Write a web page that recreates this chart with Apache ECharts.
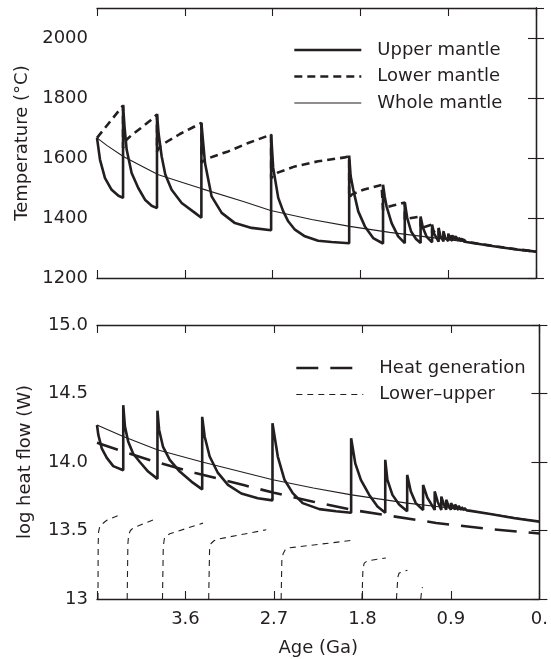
<!DOCTYPE html>
<html><head><meta charset="utf-8">
<script src="https://cdn.jsdelivr.net/npm/echarts@6/dist/echarts.min.js"></script>
<style>html,body{margin:0;padding:0;background:#fff}#c{width:551px;height:659px}</style>
</head><body><div id="c"></div>
<script>
// ---- tick labels ----
const ageTicks = [3.6, 2.7, 1.8, 0.9, 0];
const ageTickLabels = ['3.6', '2.7', '1.8', '0.9', '0.'];
const tempTicks = [1200, 1400, 1600, 1800, 2000];
const tempTickLabels = ['1200', '1400', '1600', '1800', '2000'];
const heatTicks = [13, 13.5, 14, 14.5, 15];
const heatTickLabels = ['13', '13.5', '14.0', '14.5', '15.0'];

// ---- top panel: temperature (°C) vs age (Ga) ----
const upperMantleT = [
  [4.5,1667],[4.469,1594],[4.418,1533],[4.35,1494],[4.28,1474],[4.233,1467],
  [4.233,1777],[4.218,1705],[4.196,1628],[4.145,1550],[4.077,1500],[4.008,1461],[3.94,1441],[3.885,1433],
  [3.885,1747],[3.868,1680],[3.837,1605],[3.80,1545],[3.735,1494],[3.632,1450],[3.496,1417],[3.43,1401],
  [3.43,1717],[3.41,1645],[3.393,1583],[3.325,1472],[3.222,1417],[3.086,1383],[2.915,1367],[2.715,1359],
  [2.715,1678],[2.694,1567],[2.642,1467],[2.591,1422],[2.540,1389],[2.471,1361],[2.369,1339],[2.233,1324],[2.095,1320],[1.915,1316],
  [1.915,1608],[1.90,1540],[1.873,1494],[1.822,1422],[1.754,1372],[1.669,1333],[1.568,1315],
  [1.568,1511],[1.55,1470],[1.532,1439],[1.48,1383],[1.413,1339],[1.345,1316],
  [1.345,1452],[1.32,1400],[1.28,1355],[1.23,1330],[1.183,1317],
  [1.183,1405],[1.16,1368],[1.12,1337],[1.065,1319],
  [1.065,1378],[1.045,1348],[0.998,1321],
  [0.998,1367],[0.98,1340],[0.948,1322],
  [0.948,1355],[0.93,1335],[0.899,1323],
  [0.899,1348],[0.882,1332],[0.858,1324],
  [0.858,1343],[0.843,1330],[0.823,1324],
  [0.823,1338],[0.792,1324],
  [0.792,1334],[0.765,1323],
  [0.765,1330],[0.739,1322],
  [0.739,1327],[0.715,1320],
  [0.6,1314],[0.4,1304],[0.2,1295],[0,1288]
];
const lowerMantleT = [
  [4.5,1667],[4.233,1775],
  [4.233,1633],[4.20,1660],[4.15,1675],[4.05,1700],[3.95,1726],[3.885,1745],
  [3.885,1622],[3.85,1640],[3.78,1655],[3.65,1680],[3.53,1700],[3.43,1717],
  [3.43,1585],[3.39,1595],[3.3,1606],[3.155,1622],[2.95,1650],[2.715,1678],
  [2.715,1532],[2.69,1542],[2.642,1552],[2.471,1572],[2.233,1589],[1.96,1602],[1.915,1606],
  [1.915,1468],[1.89,1478],[1.77,1494],[1.583,1510],[1.568,1511],
  [1.568,1428],[1.53,1436],[1.447,1443],[1.345,1452],
  [1.345,1395],[1.30,1399],[1.183,1405],
  [1.183,1366],[1.065,1378],
  [1.065,1350],[0.998,1367],
  [0.998,1342],[0.948,1355],
  [0.948,1336],[0.899,1348],
  [0.899,1332],[0.858,1343],
  [0.858,1330],[0.823,1338],
  [0.823,1328],[0.792,1334],
  [0.792,1326],[0.765,1330],
  [0.739,1327],[0.715,1321],
  [0.6,1315],[0.4,1305],[0.2,1296],[0,1288]
];
const wholeMantleT = [
  [4.5,1667],[4.4,1642],[4.23,1605],[4.0,1566],[3.87,1544],[3.6,1516],[3.43,1498],
  [3.0,1455],[2.72,1425],[2.3,1395],[1.91,1372],[1.5,1352],[1.0,1332],[0.71,1320],[0.4,1304],[0,1287]
];

// ---- bottom panel: log heat flow (W) vs age (Ga) ----
const upperMantleQ = [
  [4.5,14.27],[4.487,14.20],[4.452,14.10],[4.40,14.03],[4.335,13.97],[4.233,13.94],
  [4.233,14.415],[4.216,14.26],[4.183,14.15],[4.132,14.06],[4.064,14.0],[3.98,13.93],[3.885,13.877],
  [3.885,14.375],[3.868,14.234],[3.828,14.11],[3.76,14.016],[3.658,13.93],[3.54,13.857],[3.43,13.80],
  [3.43,14.33],[3.405,14.186],[3.354,14.04],[3.27,13.92],[3.168,13.833],[3.032,13.77],[2.864,13.736],[2.715,13.72],
  [2.715,14.283],[2.661,14.04],[2.593,13.87],[2.509,13.773],[2.408,13.70],[2.238,13.656],[2.069,13.64],[1.915,13.63],
  [1.915,14.174],[1.873,13.99],[1.816,13.87],[1.731,13.76],[1.647,13.675],[1.568,13.63],
  [1.568,14.016],[1.546,13.87],[1.495,13.76],[1.427,13.69],[1.345,13.64],
  [1.345,13.906],[1.308,13.785],[1.258,13.70],[1.183,13.65],
  [1.183,13.833],[1.14,13.74],[1.065,13.65],
  [1.065,13.785],[1.035,13.71],[0.998,13.65],
  [0.998,13.748],[0.972,13.69],[0.948,13.652],
  [0.948,13.724],[0.922,13.675],[0.899,13.652],
  [0.899,13.70],[0.858,13.652],
  [0.858,13.69],[0.823,13.65],
  [0.823,13.68],[0.792,13.65],
  [0.792,13.67],[0.765,13.648],
  [0.765,13.665],[0.739,13.647],
  [0.739,13.658],[0.715,13.645],
  [0.5,13.62],[0.25,13.59],[0,13.565]
];
const wholeMantleQ = [
  [4.5,14.27],[4.233,14.186],[3.888,14.09],[3.43,14.0],[2.712,13.87],[2.3,13.81],
  [1.911,13.76],[1.346,13.70],[1.0,13.672],[0.717,13.646],[0.35,13.605],[0,13.566]
];
const heatGeneration = [
  [4.5,14.14],[4.25,14.08],[3.9,14.0],[3.5,13.92],[3.0,13.83],[2.7,13.775],[2.3,13.71],
  [1.9,13.65],[1.5,13.605],[1.05,13.555],[0.5,13.51],[0,13.478]
];
const lowerUpper = [
  [4.49,13.0],[4.488,13.40],[4.484,13.49],[4.47,13.535],[4.40,13.575],[4.25,13.62], null,
  [4.193,13.0],[4.186,13.40],[4.178,13.47],[4.16,13.50],[4.132,13.518],[3.912,13.583], null,
  [3.834,13.0],[3.826,13.38],[3.815,13.44],[3.79,13.462],[3.76,13.476],[3.422,13.554], null,
  [3.364,13.0],[3.355,13.36],[3.34,13.405],[3.31,13.425],[3.27,13.437],[2.779,13.505], null,
  [2.627,13.0],[2.62,13.28],[2.607,13.33],[2.585,13.36],[2.56,13.372],[1.917,13.427], null,
  [1.805,13.0],[1.795,13.22],[1.782,13.262],[1.749,13.279],[1.562,13.299], null,
  [1.454,13.0],[1.44,13.16],[1.427,13.19],[1.343,13.21], null,
  [1.207,13.0],[1.198,13.06],[1.19,13.087]
];

// ---- rendering ----
const INK = '#231f20';
const FONT = 'DejaVu Sans';
function pick(ticks, labels) {
  return function (v) {
    for (let i = 0; i < ticks.length; i++) if (Math.abs(v - ticks[i]) < 1e-6) return labels[i];
    return '';
  };
}
const axisLine = { show: true, lineStyle: { color: INK, width: 1.3 } };
const tick = { show: true, inside: true, length: 8, lineStyle: { color: INK, width: 1.1 } };
const lbl = { color: INK, fontSize: 18, fontFamily: FONT };

function xAx(grid, pos, showLabel) {
  return {
    type: 'value', gridIndex: grid, position: pos, min: 0, max: 4.5, interval: 0.9, inverse: true,
    axisLine: axisLine, axisTick: tick, splitLine: { show: false },
    axisLabel: Object.assign({ show: showLabel, margin: 11, formatter: pick(ageTicks, ageTickLabels) }, lbl),
    name: showLabel ? 'Age (Ga)' : '', nameLocation: 'middle', nameGap: 40,
    nameTextStyle: { color: INK, fontSize: 18, fontFamily: FONT }
  };
}
function yAx(grid, pos, showLabel, min, max, interval, ticks, labels, name) {
  return {
    type: 'value', gridIndex: grid, position: pos, min: min, max: max, interval: interval,
    axisLine: axisLine, axisTick: tick, splitLine: { show: false },
    axisLabel: Object.assign({ show: showLabel, margin: 9, formatter: pick(ticks, labels) }, lbl),
    name: showLabel ? name : '', nameLocation: 'middle', nameGap: 63,
    nameTextStyle: { color: INK, fontSize: 18, fontFamily: FONT }
  };
}
function ln(name, data, xi, yi, width, type) {
  return {
    type: 'line', name: name, data: data, xAxisIndex: xi, yAxisIndex: yi,
    symbol: 'none', showSymbol: false, clip: true, silent: true, connectNulls: false,
    lineStyle: { color: INK, width: width, type: type || 'solid' }, itemStyle: { color: INK },
    emphasis: { disabled: true }
  };
}
function legendOf(names, left, top) {
  return {
    data: names, orient: 'vertical', left: left, top: top, padding: 0,
    itemWidth: 67, itemHeight: 14, itemGap: 8.5, selectedMode: false,
    itemStyle: { opacity: 0 },
    lineStyle: { width: 'inherit' },
    textStyle: { color: INK, fontSize: 18, fontFamily: FONT, padding: [0, 0, 0, 11] }
  };
}

const chart = echarts.init(document.getElementById('c'), null, { renderer: 'canvas' });
chart.setOption({
  animation: false,
  backgroundColor: '#fff',
  grid: [
    { left: 97, top: 8, width: 439, height: 270 },
    { left: 97, top: 325, width: 443, height: 274 }
  ],
  xAxis: [xAx(0, 'bottom', false), xAx(0, 'top', false), xAx(1, 'bottom', true), xAx(1, 'top', false)],
  yAxis: [
    yAx(0, 'left', true, 1200, 2100, 200, tempTicks, tempTickLabels, 'Temperature (°C)'),
    yAx(0, 'right', false, 1200, 2100, 200, tempTicks, tempTickLabels, ''),
    yAx(1, 'left', true, 13, 15, 0.5, heatTicks, heatTickLabels, 'log heat flow (W)'),
    yAx(1, 'right', false, 13, 15, 0.5, heatTicks, heatTickLabels, '')
  ],
  legend: [
    legendOf(['Upper mantle', 'Lower mantle', 'Whole mantle'], 293, 41),
    legendOf(['Heat generation', 'Lower–upper'], 295, 359)
  ],
  series: [
    ln('Whole mantle', wholeMantleT, 0, 0, 1.1),
    ln('Lower mantle', lowerMantleT, 0, 0, 2.6, [8, 5]),
    ln('Upper mantle', upperMantleT, 0, 0, 2.6),
    ln('Lower–upper', lowerUpper, 2, 2, 1.1, [6, 5]),
    ln('Heat generation', heatGeneration, 2, 2, 2.6, [22, 12]),
    ln('Whole mantle heat flow', wholeMantleQ, 2, 2, 1.1),
    ln('Upper mantle heat flow', upperMantleQ, 2, 2, 2.6)
  ]
});
</script>
</body></html>
